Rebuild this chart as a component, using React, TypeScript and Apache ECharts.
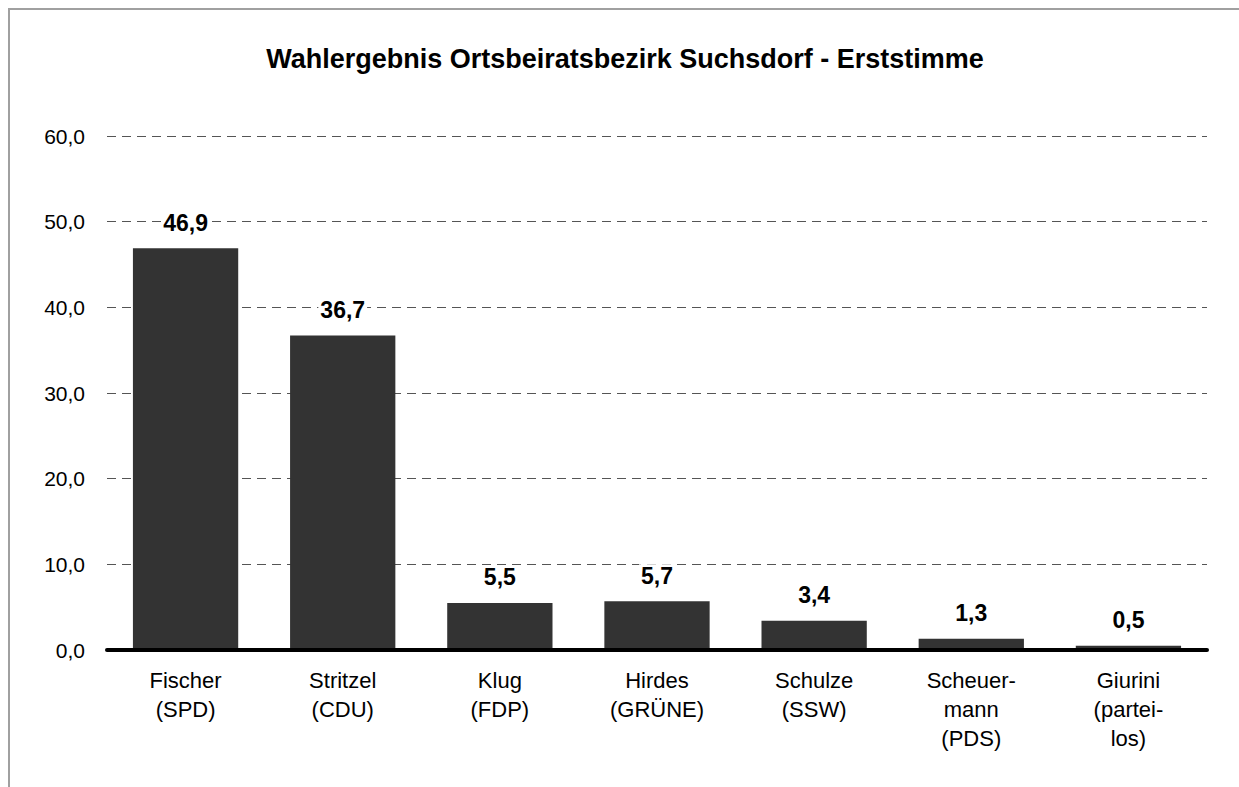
import React, { useEffect, useRef } from "react";
import * as echarts from "echarts";

const TITLE = "Wahlergebnis Ortsbeiratsbezirk Suchsdorf - Erststimme";
const categories = [
  "Fischer\n(SPD)",
  "Stritzel\n(CDU)",
  "Klug\n(FDP)",
  "Hirdes\n(GRÜNE)",
  "Schulze\n(SSW)",
  "Scheuer-\nmann\n(PDS)",
  "Giurini\n(partei-\nlos)",
];
const values = [46.9, 36.7, 5.5, 5.7, 3.4, 1.3, 0.5];
const yMin = 0;
const yMax = 60;
const yInterval = 10;

const FONT = "'Liberation Sans', Arial, Helvetica, sans-serif";
const fmt = (v: number) => v.toFixed(1).replace(".", ",");

export default function App() {
  const ref = useRef<HTMLDivElement>(null);

  useEffect(() => {
    document.body.style.margin = "0";
    document.body.style.overflow = "hidden";
    if (!ref.current) return;
    const chart = echarts.init(ref.current, null, { renderer: "svg" });
    chart.setOption({
      animation: false,
      backgroundColor: "#ffffff",
      textStyle: { fontFamily: FONT },
      title: {
        text: TITLE,
        left: 625,
        top: 45,
        textAlign: "center",
        padding: 0,
        textStyle: {
          fontFamily: FONT,
          fontSize: 27,
          fontWeight: "bold",
          color: "#000",
        },
      },
      graphic: [
        {
          type: "line",
          shape: { x1: 9, y1: 8, x2: 9, y2: 787 },
          style: { stroke: "#a0a0a0", lineWidth: 2 },
          silent: true,
        },
        {
          type: "line",
          shape: { x1: 8, y1: 9, x2: 1239, y2: 9 },
          style: { stroke: "#a0a0a0", lineWidth: 2 },
          silent: true,
        },
      ],
      grid: { left: 107, right: 32, top: 136, bottom: 137, containLabel: false },
      xAxis: {
        type: "category",
        data: categories,
        z: 10,
        axisLine: {
          show: true,
          lineStyle: { color: "#000", width: 4, cap: "round" },
        },
        axisTick: { show: false },
        axisLabel: {
          interval: 0,
          margin: 16,
          fontFamily: FONT,
          fontSize: 22,
          lineHeight: 29,
          color: "#000",
          align: "center",
        },
      },
      yAxis: {
        type: "value",
        min: yMin,
        max: yMax,
        interval: yInterval,
        axisLine: { show: false },
        axisTick: { show: false },
        axisLabel: {
          margin: 22,
          fontFamily: FONT,
          fontSize: 21,
          color: "#000",
          formatter: (v: number) => fmt(v),
        },
        splitLine: {
          show: true,
          lineStyle: { color: "#555", width: 1, type: [9, 6] },
        },
      },
      series: [
        {
          type: "bar",
          data: values,
          barCategoryGap: "33%",
          itemStyle: { color: "#333333" },
          label: {
            show: true,
            position: "top",
            distance: 14,
            fontFamily: FONT,
            fontSize: 23,
            fontWeight: "bold",
            color: "#000",
            backgroundColor: "#fff",
            padding: [0, 2],
            formatter: (p: any) => fmt(p.value),
          },
        },
      ],
    });
    return () => chart.dispose();
  }, []);

  return <div ref={ref} style={{ width: 1239, height: 787 }} />;
}
